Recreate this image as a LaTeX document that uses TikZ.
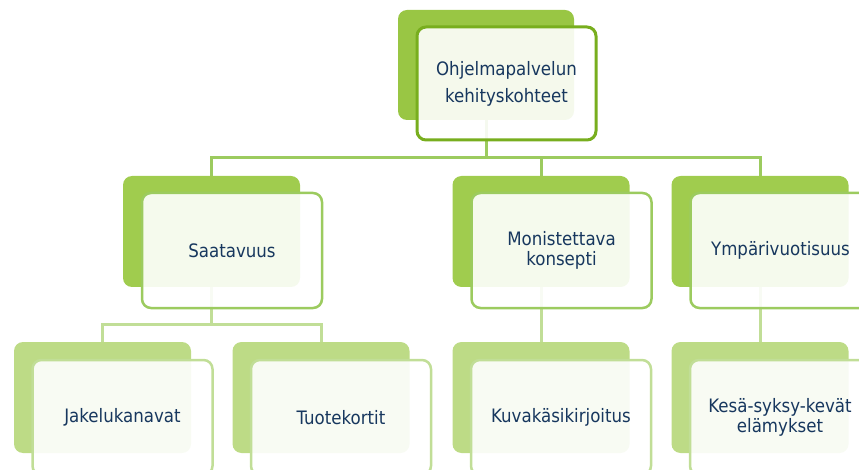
\documentclass[tikz,border=0pt]{standalone}
\usepackage{fontspec}
\setmainfont{DejaVu Sans Condensed}
\usetikzlibrary{backgrounds,calc}
\definecolor{textblue}{HTML}{17375E}
\definecolor{rootgreen}{HTML}{99C644}
\definecolor{rootline}{HTML}{78AE1E}
\definecolor{midgreen}{HTML}{A0CC4E}
\definecolor{midline}{HTML}{9CCB5F}
\definecolor{leafgreen}{HTML}{BDDB86}
\definecolor{leafline}{HTML}{C1DE97}

\begin{document}
\begin{tikzpicture}[x=1pt,y=-1pt,
  back node/.style={rectangle,rounded corners=9pt,inner sep=0pt,minimum width=177pt,minimum height=111pt},
  front node/.style={rectangle,rounded corners=9pt,inner sep=0pt,minimum width=180pt,minimum height=115pt,
    draw,line width=2.5pt,fill=white,fill opacity=0.9,text opacity=1,text=textblue,align=center,
    font=\fontsize{18.5}{20}\selectfont},
  root back/.style={back node,fill=rootgreen,minimum width=176pt,minimum height=110pt},
  root front/.style={front node,draw=rootline,line width=3pt,minimum width=179pt,minimum height=113pt,
    font=\fontsize{18.5}{27}\selectfont},
  mid back/.style={back node,fill=midgreen},
  mid front/.style={front node,draw=midline},
  leaf back/.style={back node,fill=leafgreen},
  leaf front/.style={front node,draw=leafline},
  upper link/.style={draw=midline,line width=3pt},
  lower link/.style={draw=leafline,line width=3pt}]

  \useasboundingbox (0,0) rectangle (859,470);

  % top level
  \node[root back] (root bg) at (486,65) {};
  \node[root front] (root) at ($(root bg)+(20.5,18.5)$) {Ohjelmapalvelun\\kehityskohteet};

  % second level
  \node[mid back] (saat bg) at (211.5,231.5) {};
  \node[mid back] (moni bg) at (541,231.5) {};
  \node[mid back] (ymp bg) at (760,231.5) {};
  \node[mid front] (saat) at ($(saat bg)+(20.5,19)$) {Saatavuus};
  \node[mid front] (moni) at ($(moni bg)+(20.5,19)$) {Monistettava\\konsepti};
  \node[mid front] (ymp) at ($(ymp bg)+(20.5,19)$) {Ympärivuotisuus};

  % third level
  \node[leaf back] (jake bg) at (102.5,397.5) {};
  \node[leaf back] (tuote bg) at (321,397.5) {};
  \node[leaf back] (kuva bg) at (541,397.5) {};
  \node[leaf back] (kesa bg) at (760,397.5) {};
  \node[leaf front] (jake) at ($(jake bg)+(20,20)$) {Jakelukanavat};
  \node[leaf front] (tuote) at ($(tuote bg)+(20,20)$) {Tuotekortit};
  \node[leaf front] (kuva) at ($(kuva bg)+(20,20)$) {Kuvakäsikirjoitus};
  \node[leaf front] (kesa) at ($(kesa bg)+(20,20)$) {Kesä-syksy-kevät\\elämykset};

  \begin{scope}[on background layer]
    \draw[upper link] (root bg.south) -- ++(0,37) -| (saat bg.north);
    \draw[upper link] (root bg.south) -- ++(0,37) -| (moni bg.north);
    \draw[upper link] (root bg.south) -- ++(0,37) -| (ymp bg.north);
    \draw[lower link] (saat bg.south) -- ++(0,37) -| (jake bg.north);
    \draw[lower link] (saat bg.south) -- ++(0,37) -| (tuote bg.north);
    \draw[lower link] (moni bg.south) -- (kuva bg.north);
    \draw[lower link] (ymp bg.south) -- (kesa bg.north);
  \end{scope}
\end{tikzpicture}
\end{document}
